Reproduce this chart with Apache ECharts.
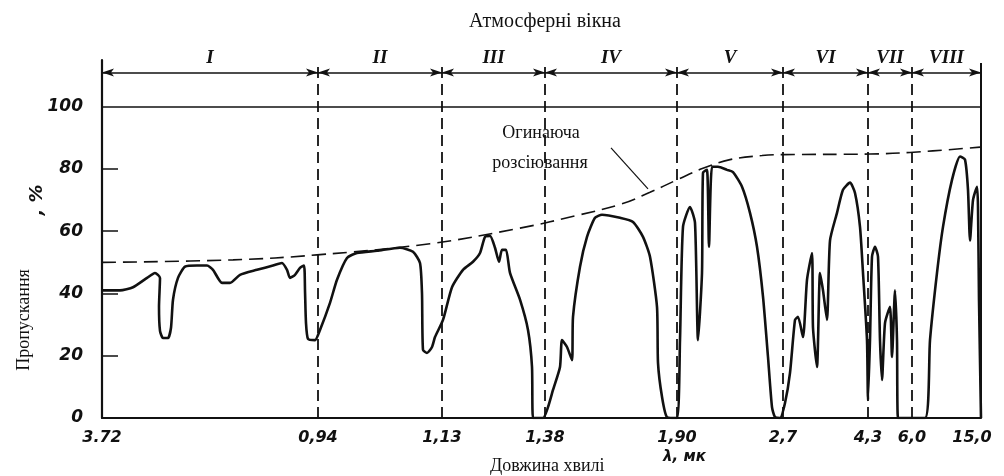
<!DOCTYPE html>
<html>
<head>
<meta charset="utf-8">
<script src="https://cdn.jsdelivr.net/npm/echarts@6/dist/echarts.min.js"></script>
<style>html,body{margin:0;padding:0;background:#fff}#c{width:1004px;height:476px}</style>
</head>
<body>
<div id="c"></div>
<script>
// Axis position units along the (non-linear) wavelength axis, and their labels
const xTickPos = [0, 216, 340, 443, 575, 681, 766, 810, 879];
const xTickLabels = ['3.72', '0,94', '1,13', '1,38', '1,90', '2,7', '4,3', '6,0', '15,0'];
const windowNames = ['I', 'II', 'III', 'IV', 'V', 'VI', 'VII', 'VIII'];
const yLabelValues = [0, 20, 40, 60, 80, 100];
const yTickValues = [20, 40, 60, 80];

// Transmission curve (position along axis, transmission %)
const transPos = [0,18,31,45,53,58,57,58,61,66,69,71,76,83,95,105,111,120,128,138,155,171,180,185,188,193,198,202,203,204,206,213,218,228,235,245,255,275,298,311,318,320,321,325,
  330,333,341,350,361,371,378,383,388,393,397,400,404,408,418,426,430,431,441,446,451,458,460,465,470,471,478,485,493,500,518,531,541,548,555,556,560,565,575,
  578,581,588,593,596,600,601,605,607,610,616,625,631,640,648,655,661,666,670,673,678,683,688,693,696,701,705,710,711,715,718,721,725,728,735,741,748,753,758,761,765,766,768,770,773,776,778,780,783,788,790,793,795,796,823,828,835,841,850,858,863,866,868,871,875,876,877,879];
const transVal = [41,41,42,45,46.6,45,35.7,28,25.7,25.7,29,38,45,48.6,49,49,47.6,43.4,43.4,46,47.6,49,49.8,47.6,45,46,48.2,49,41,30.5,25.4,25,28.3,37,44.4,51.4,53,53.7,54.7,53.4,49.8,40,21.9,20.9,
  22.8,26,31.5,42,47.6,50.2,53,58.2,58.5,54.7,50.2,54,54,46.6,38,28.3,16.4,0,0,3.5,9,16.4,25,22.8,18.6,32.5,48.6,58.2,64.3,65.3,64.3,63,58.2,51.8,35.7,17.7,6.8,0.3,0,
  25,61.4,67.8,62.7,25,46.6,78.8,79.7,55,80.7,80.7,79.7,79,74.3,65.9,55,39,19.6,3.5,0.3,0,4.8,14.5,31.5,32.5,26,44.4,53,29,16.4,46.6,41,31.5,57,65.9,73.3,75.6,72.3,61.4,46.6,25,5.8,25,51.8,55,51.8,25,12.2,30.5,35.7,19.6,41,25,0,0,25,46.6,61.4,76.5,84,83,73.3,57,70,74.3,67.8,38,0];

// Scattering envelope (dashed)
const envPos = [0,131,215,328,418,478,520,548,575,601,628,660,681,768,808,878];
const envVal = [50,50.8,52.4,56,61,65.3,68.8,72.5,76.5,80.2,83,84.3,84.6,84.8,85.3,87];

const arrowLevel = 111;
const frameTop = 114;

const zip = (a, b) => a.map((v, i) => [v, b[i]]);

const boundaryLines = xTickPos.slice(1, -1).map(p => [
  {coord: [p, 0], symbol: 'none'},
  {coord: [p, frameTop], symbol: 'none', lineStyle: {type: [11, 6], width: 1.8, color: '#111'}}
]);
const rightBorder = [[
  {coord: [xTickPos[xTickPos.length - 1], 0], symbol: 'none'},
  {coord: [xTickPos[xTickPos.length - 1], frameTop], symbol: 'none', lineStyle: {type: 'solid', width: 2, color: '#111'}}
]];
const hundredLine = [[
  {coord: [xTickPos[0], 100], symbol: 'none'},
  {coord: [xTickPos[xTickPos.length - 1], 100], symbol: 'none', lineStyle: {type: 'solid', width: 1.6, color: '#111'}}
]];
const arrowLines = windowNames.map((n, i) => [
  {coord: [xTickPos[i], arrowLevel], symbol: 'arrow', symbolSize: [6, 12], name: n},
  {coord: [xTickPos[i + 1], arrowLevel], symbol: 'arrow', symbolSize: [6, 12],
   lineStyle: {type: 'solid', width: 1.5, color: '#111'},
   label: {show: true, position: 'insideMiddleTop', distance: 5, formatter: n,
     fontFamily: 'Liberation Serif', fontStyle: 'italic', fontWeight: 'bold', fontSize: 19, color: '#111'}}
]);
const leader = [[
  {coord: [509, 86.8], symbol: 'none'},
  {coord: [546, 73.6], symbol: 'none', lineStyle: {type: 'solid', width: 1.2, color: '#111'}}
]];

const tickFont = {fontFamily: 'DejaVu Sans', fontStyle: 'italic', fontWeight: 'bold', fontSize: 16, color: '#111'};

const chart = echarts.init(document.getElementById('c'), null, {renderer: 'canvas'});
chart.setOption({
  animation: false,
  backgroundColor: '#fff',
  grid: {left: 102, right: 23, top: 60, bottom: 58},
  xAxis: {
    type: 'value', min: 0, max: 879,
    splitLine: {show: false},
    axisLine: {show: true, onZero: false, lineStyle: {color: '#111', width: 2.2}},
    axisTick: {show: false},
    axisLabel: Object.assign({
      customValues: xTickPos,
      margin: 12,
      formatter: v => {
        const i = xTickPos.indexOf(v);
        return i === xTickPos.length - 1 ? '{r|' + xTickLabels[i] + '}' : xTickLabels[i];
      },
      rich: {r: {fontFamily: 'DejaVu Sans', fontStyle: 'italic', fontWeight: 'bold', fontSize: 16, color: '#111', padding: [0, 18, 0, 0]}}
    }, tickFont)
  },
  yAxis: {
    type: 'value', min: 0, max: 115, interval: 20,
    splitLine: {show: false},
    axisLine: {show: true, onZero: false, lineStyle: {color: '#111', width: 2.2}},
    axisTick: {show: true, inside: true, length: 16, customValues: yTickValues, lineStyle: {color: '#111', width: 1.5}},
    axisLabel: Object.assign({customValues: yLabelValues, margin: 19}, tickFont, {fontSize: 17})
  },
  series: [
    {
      name: 'frame', type: 'line', data: [], silent: true,
      markLine: {silent: true, animation: false, symbol: ['none', 'none'], label: {show: false},
        lineStyle: {color: '#111'},
        data: boundaryLines.concat(rightBorder, hundredLine, arrowLines)}
    },
    {
      name: 'envelope', type: 'line', data: zip(envPos, envVal), smooth: 0.4,
      showSymbol: false, silent: true,
      lineStyle: {color: '#111', width: 1.6, type: [14, 7]},
      markLine: {silent: true, animation: false, symbol: ['none', 'none'], label: {show: false}, data: leader}
    },
    {
      name: 'transmission', type: 'line', data: zip(transPos, transVal), smooth: 0.2,
      showSymbol: false, silent: true,
      lineStyle: {color: '#111', width: 2.6, join: 'round'}
    }
  ],
  graphic: [
    {type: 'text', style: {text: 'Атмосферні вікна', x: 545, y: 22, textAlign: 'center', textVerticalAlign: 'middle', font: '20px "Liberation Serif"', fill: '#111'}},
    {type: 'text', style: {text: 'Огинаюча', x: 541, y: 133, textAlign: 'center', textVerticalAlign: 'middle', font: '18px "Liberation Serif"', fill: '#111'}},
    {type: 'text', style: {text: 'розсіювання', x: 540, y: 163, textAlign: 'center', textVerticalAlign: 'middle', font: '18px "Liberation Serif"', fill: '#111'}},
    {type: 'text', style: {text: 'Довжина хвилі', x: 490, y: 466, textAlign: 'left', textVerticalAlign: 'middle', font: '18px "Liberation Serif"', fill: '#111'}},
    {type: 'text', style: {text: 'λ, мк', x: 663, y: 457, textAlign: 'left', textVerticalAlign: 'middle', font: 'italic bold 15px "DejaVu Sans"', fill: '#111'}},
    {type: 'text', x: 24, y: 320, rotation: Math.PI / 2, style: {text: 'Пропускання', textAlign: 'center', textVerticalAlign: 'middle', font: '18px "Liberation Serif"', fill: '#111'}},
    {type: 'text', x: 37, y: 200, rotation: Math.PI / 2, style: {text: ', %', textAlign: 'center', textVerticalAlign: 'middle', font: 'italic bold 18px "DejaVu Sans"', fill: '#111'}}
  ]
});
</script>
</body>
</html>
